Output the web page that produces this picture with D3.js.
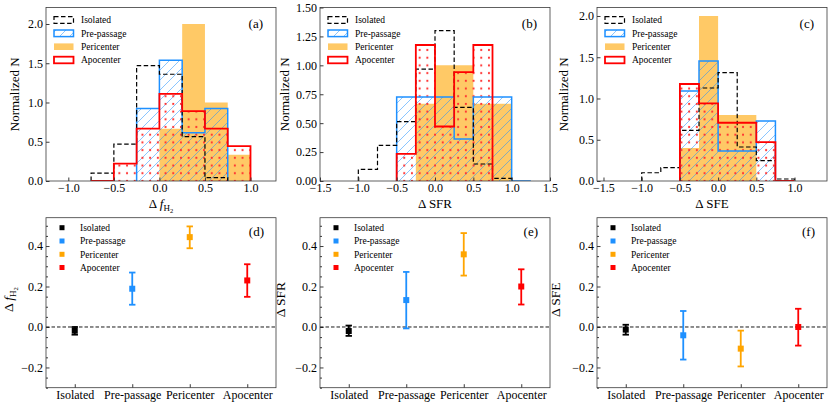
<!DOCTYPE html>
<html>
<head>
<meta charset="utf-8">
<script src="https://cdn.jsdelivr.net/npm/d3@7/dist/d3.min.js"></script>
<style>
body { margin: 0; background: #fff; }
svg, text { font-family: "Liberation Serif", "Times New Roman", "DejaVu Serif", serif; }
text { fill: #000; }
</style>
</head>
<body>
<svg id="fig" width="830" height="406" font-family="Liberation Serif, serif"></svg>
<script>
// ---------- top row: normalised histograms (bin width 0.25) ----------
var edgesH2  = [-0.75, -0.5, -0.25, 0, 0.25, 0.5, 0.75, 1.0];
var isoH2    = [0.10, 0.47, 1.47, 1.36, 0.565, 0.042, 0];
var preH2    = [0, 0, 0.923, 1.538, 0.615, 0.923, 0];
var periH2   = [0, 0, 0, 0.667, 2.0, 1.0, 0.333];
var apoH2    = [0, 0.222, 0.667, 1.111, 0.889, 0.667, 0.444];
var spanH2   = [[-0.75, 0.75], [-0.25, 0.75], [0, 1.0], [-0.75, 1.0]];   // bin range of each sample

var edgesSFR = [-1.0, -0.75, -0.5, -0.25, 0, 0.25, 0.5, 0.75, 1.0, 1.25];
var isoSFR   = [0.10, 0.308, 0.513, 0.967, 1.30, 0.636, 0.147, 0.023, 0];
var preSFR   = [0, 0, 0.727, 0.727, 0.727, 0.364, 0.727, 0.727, 0];
var periSFR  = [0, 0, 0, 0.667, 1.0, 1.0, 0.667, 0.667, 0];
var apoSFR   = [0, 0, 0.235, 1.176, 0.471, 0.941, 1.176, 0, 0];
var spanSFR  = [[-1.0, 1.0], [-0.5, 1.25], [-0.25, 1.0], [-0.5, 0.75]];

var edgesSFE = [-1.0, -0.75, -0.5, -0.25, 0, 0.25, 0.5, 0.75, 1.0];
var isoSFE   = [0.10, 0.162, 0.614, 1.127, 1.313, 0.412, 0.246, 0.024];
var preSFE   = [0, 0, 1.091, 1.455, 0.364, 0.364, 0.727, 0];
var periSFE  = [0, 0, 0.4, 2.0, 0.8, 0.8, 0, 0];
var apoSFE   = [0, 0, 1.176, 0.941, 0.706, 0.706, 0.471, 0];
var spanSFE  = [[-1.0, 1.0], [-0.5, 0.75], [-0.5, 0.5], [-0.5, 1.0]];

var xTicksH2  = [-1.0, -0.5, 0.0, 0.5, 1.0];
var xTicksSFR = [-1.5, -1.0, -0.5, 0.0, 0.5, 1.0, 1.5];
var xTicksSFE = [-1.5, -1.0, -0.5, 0.0, 0.5, 1.0];
var yTicksH2  = [0, 0.5, 1.0, 1.5, 2.0];
var yTicksSFR = [0, 0.25, 0.5, 0.75, 1.0, 1.25, 1.5];
var yTicksSFE = [0, 0.5, 1.0, 1.5, 2.0];

// ---------- bottom row: median offsets with errors ----------
var groups     = ["Isolated", "Pre-passage", "Pericenter", "Apocenter"];
var groupColor = ["#000000", "#1e90ff", "#ffa500", "#ff0000"];

var dH2    = [-0.018, 0.189, 0.444, 0.230];
var dH2Lo  = [-0.038, 0.110, 0.389, 0.149];
var dH2Hi  = [ 0.000, 0.269, 0.497, 0.310];

var dSFR   = [-0.020, 0.133, 0.359, 0.200];
var dSFRLo = [-0.044, -0.007, 0.254, 0.111];
var dSFRHi = [ 0.007, 0.272, 0.464, 0.285];

var dSFE   = [-0.013, -0.041, -0.107, 0.000];
var dSFELo = [-0.038, -0.161, -0.195, -0.092];
var dSFEHi = [ 0.011, 0.079, -0.018, 0.090];

var yTicksBot  = [-0.2, 0.0, 0.2, 0.4];

// ---------- layout ----------
var panelX = [46, 320, 597], panelW = 230;
var topY = 7.5, topB = 181;
var botY = 217.7, botB = 387.7;
var frameColor = "#3a3a3a";
var serif = "Liberation Serif, Times New Roman, DejaVu Serif, serif";

var svg = d3.select("#fig");
var defs = svg.append("defs");

// "/" hatch for pre-passage
var hatch = defs.append("pattern")
    .attr("id", "hatchBlue")
    .attr("patternUnits", "userSpaceOnUse")
    .attr("width", 10).attr("height", 10);
hatch.append("path")
    .attr("d", "M-1,1 l2,-2 M0,10 l10,-10 M9,11 l2,-2")
    .attr("stroke", "#1e90ff").attr("stroke-width", 0.7)
    .attr("stroke-opacity", 0.75);

// "." hatch for apocenter
var dots = defs.append("pattern")
    .attr("id", "dotsRed")
    .attr("patternUnits", "userSpaceOnUse")
    .attr("width", 7.7).attr("height", 7.7);
dots.append("circle")
    .attr("cx", 3.85).attr("cy", 3.85).attr("r", 1.1)
    .attr("fill", "#ff3030");

// step outline, as matplotlib draws histtype="step", limited to the sample's bin range
function stepPoints(edges, vals, span){
    var pts = [];
    for (var i = 0; i < vals.length; i++){
        if (edges[i] < span[0] - 1e-9 || edges[i+1] > span[1] + 1e-9) continue;
        if (!pts.length) pts.push([edges[i], 0]);
        pts.push([edges[i], vals[i]]);
        pts.push([edges[i+1], vals[i]]);
    }
    pts.push([pts[pts.length-1][0], 0]);
    return pts;
}

function styleAxis(g){
    g.select(".domain").remove();
    g.attr("font-family", serif)
     .attr("font-size", 12)
     .attr("color", frameColor);
    g.selectAll("text").style("fill", "#000").attr("font-family", serif);
}

function histPanel(k, edges, iso, pre, peri, apo, span, xDom, yDom, xTicks, yTicks, yFmt, letter, ylabX, xlabel){
    var x0 = panelX[k];
    var x = d3.scaleLinear().domain(xDom).range([x0, x0 + panelW]);
    var y = d3.scaleLinear().domain(yDom).range([topB, topY]);
    var line = d3.line().x(function(d){ return x(d[0]); }).y(function(d){ return y(d[1]); });

    defs.append("clipPath").attr("id", "clipTop" + k)
        .append("rect").attr("x", x0).attr("y", topY).attr("width", panelW).attr("height", topB - topY);

    var g = svg.append("g").attr("clip-path", "url(#clipTop" + k + ")");

    // fills first
    g.append("path").attr("d", line(stepPoints(edges, peri, span[2])) + "Z")
        .attr("fill", "#ffa500").attr("fill-opacity", 0.6).attr("stroke", "none");
    g.append("path").attr("d", line(stepPoints(edges, pre, span[1])) + "Z")
        .attr("fill", "url(#hatchBlue)").attr("stroke", "none");
    g.append("path").attr("d", line(stepPoints(edges, apo, span[3])) + "Z")
        .attr("fill", "url(#dotsRed)").attr("stroke", "none");

    // outlines
    g.append("path").attr("d", line(stepPoints(edges, pre, span[1])))
        .attr("fill", "none").attr("stroke", "#1e90ff").attr("stroke-width", 1.5);
    g.append("path").attr("d", line(stepPoints(edges, iso, span[0])))
        .attr("fill", "none").attr("stroke", "#000").attr("stroke-width", 1.2)
        .attr("stroke-dasharray", "4.5,2.5");
    g.append("path").attr("d", line(stepPoints(edges, apo, span[3])))
        .attr("fill", "none").attr("stroke", "#ff0000").attr("stroke-width", 1.8);

    // axes
    svg.append("g").attr("transform", "translate(0," + topB + ")")
        .call(d3.axisBottom(x).tickValues(xTicks).tickFormat(d3.format(".1f")).tickSize(-3.5).tickPadding(2.5))
        .call(styleAxis);
    svg.append("g").attr("transform", "translate(" + x0 + ",0)")
        .call(d3.axisLeft(y).tickValues(yTicks).tickFormat(d3.format(yFmt)).tickSize(-3.5).tickPadding(3))
        .call(styleAxis);

    svg.append("rect").attr("x", x0).attr("y", topY).attr("width", panelW).attr("height", topB - topY)
        .attr("fill", "none").attr("stroke", frameColor).attr("stroke-width", 0.8);

    // legend
    var lg = svg.append("g").attr("transform", "translate(" + x0 + ",0)");
    var rows = [20, 33.3, 46.7, 60];
    lg.append("rect").attr("x", 8).attr("y", rows[0] - 3.3).attr("width", 19.5).attr("height", 6.6)
        .attr("fill", "none").attr("stroke", "#000").attr("stroke-width", 1.2).attr("stroke-dasharray", "4.5,2.5");
    lg.append("rect").attr("x", 8).attr("y", rows[1] - 3.3).attr("width", 19.5).attr("height", 6.6)
        .attr("fill", "url(#hatchBlue)").attr("stroke", "#1e90ff").attr("stroke-width", 1.5);
    lg.append("rect").attr("x", 8).attr("y", rows[2] - 3.3).attr("width", 19.5).attr("height", 6.6)
        .attr("fill", "#ffa500").attr("fill-opacity", 0.6).attr("stroke", "none");
    lg.append("rect").attr("x", 8).attr("y", rows[3] - 3.3).attr("width", 19.5).attr("height", 6.6)
        .attr("fill", "#fff").attr("stroke", "#ff0000").attr("stroke-width", 1.8);
    lg.selectAll("text.leg").data(groups).enter().append("text")
        .attr("class", "leg")
        .attr("x", 35).attr("y", function(d, i){ return rows[i] + 3.2; })
        .attr("font-size", 9.5).text(function(d){ return d; });

    svg.append("text").attr("x", x0 + panelW - 13).attr("y", 28)
        .attr("text-anchor", "end").attr("font-size", 13).text(letter);

    svg.append("text").attr("transform", "translate(" + ylabX + "," + ((topY + topB) / 2) + ") rotate(-90)")
        .attr("text-anchor", "middle").attr("font-size", 13).text("Normalized N");

    xlabel(svg.append("text").attr("x", x0 + panelW / 2).attr("y", 208)
        .attr("text-anchor", "middle").attr("font-size", 13));
}

function errPanel(k, vals, lo, hi, letter, ylabX, ylabel){
    var x0 = panelX[k];
    var x = d3.scaleLinear().domain([-0.5, 3.5]).range([x0, x0 + panelW]);
    var y = d3.scaleLinear().domain([-0.3, 0.54]).range([botB, botY]);

    var yAx = d3.axisLeft(y).tickValues(yTicksBot).tickFormat(d3.format(".1f")).tickSize(-3.5).tickPadding(3);
    svg.append("g").attr("transform", "translate(" + x0 + ",0)").call(yAx).call(styleAxis);
    var minor = d3.range(-0.3, 0.5401, 0.05).filter(function(v){
        return Math.abs(v * 5 - Math.round(v * 5)) > 1e-6;
    });
    svg.append("g").attr("transform", "translate(" + x0 + ",0)")
        .call(d3.axisLeft(y).tickValues(minor).tickFormat("").tickSize(-2))
        .call(styleAxis);
    svg.append("g").attr("transform", "translate(0," + botB + ")")
        .call(d3.axisBottom(x).tickValues([0, 1, 2, 3]).tickFormat(function(d){ return groups[d]; })
            .tickSize(-3.5).tickPadding(3))
        .call(styleAxis);

    // zero line
    svg.append("line").attr("x1", x0).attr("x2", x0 + panelW).attr("y1", y(0)).attr("y2", y(0))
        .attr("stroke", "#000").attr("stroke-width", 0.9).attr("stroke-dasharray", "3.5,2");

    var g = svg.append("g");
    var pts = g.selectAll("g.pt").data(vals).enter().append("g").attr("class", "pt");
    pts.append("line")
        .attr("x1", function(d, i){ return x(i); }).attr("x2", function(d, i){ return x(i); })
        .attr("y1", function(d, i){ return y(lo[i]); }).attr("y2", function(d, i){ return y(hi[i]); })
        .attr("stroke", function(d, i){ return groupColor[i]; }).attr("stroke-width", 1.8);
    [lo, hi].forEach(function(arr){
        pts.append("line")
            .attr("x1", function(d, i){ return x(i) - 3.2; }).attr("x2", function(d, i){ return x(i) + 3.2; })
            .attr("y1", function(d, i){ return y(arr[i]); }).attr("y2", function(d, i){ return y(arr[i]); })
            .attr("stroke", function(d, i){ return groupColor[i]; }).attr("stroke-width", 1.8);
    });
    pts.append("rect")
        .attr("x", function(d, i){ return x(i) - 3; }).attr("y", function(d){ return y(d) - 3; })
        .attr("width", 6).attr("height", 6)
        .attr("fill", function(d, i){ return groupColor[i]; });

    svg.append("rect").attr("x", x0).attr("y", botY).attr("width", panelW).attr("height", botB - botY)
        .attr("fill", "none").attr("stroke", frameColor).attr("stroke-width", 0.8);

    // legend
    var rows = [227.7, 241, 254.3, 267.5];
    var lg = svg.append("g").attr("transform", "translate(" + x0 + ",0)");
    lg.selectAll("rect").data(groups).enter().append("rect")
        .attr("x", 13.5).attr("y", function(d, i){ return rows[i] - 2.5; })
        .attr("width", 5).attr("height", 5)
        .attr("fill", function(d, i){ return groupColor[i]; });
    lg.selectAll("text").data(groups).enter().append("text")
        .attr("x", 34).attr("y", function(d, i){ return rows[i] + 3.2; })
        .attr("font-size", 9.5).text(function(d){ return d; });

    svg.append("text").attr("x", x0 + panelW - 12).attr("y", 236)
        .attr("text-anchor", "end").attr("font-size", 13).text(letter);

    ylabel(svg.append("text").attr("transform", "translate(" + ylabX + "," + ((botY + botB) / 2 - 3) + ") rotate(-90)")
        .attr("text-anchor", "middle").attr("font-size", 13.5));
}

// label writers
function labH2(t){
    t.append("tspan").text("Δ ");
    t.append("tspan").attr("font-style", "italic").text("f");
    t.append("tspan").attr("font-size", 9).attr("dy", 3).text("H");
    t.append("tspan").attr("font-size", 6.5).attr("dy", 1.5).text("2");
}
function labText(s){ return function(t){ t.text(s); }; }

histPanel(0, edgesH2, isoH2, preH2, periH2, apoH2, spanH2, [-1.245, 1.28], [0, 2.21],
          xTicksH2, yTicksH2, ".1f", "(a)", 19, labH2);
histPanel(1, edgesSFR, isoSFR, preSFR, periSFR, apoSFR, spanSFR, [-1.5, 1.5], [0, 1.5],
          xTicksSFR, yTicksSFR, ".2f", "(b)", 289, labText("Δ SFR"));
histPanel(2, edgesSFE, isoSFE, preSFE, periSFE, apoSFE, spanSFE, [-1.585, 1.425], [0, 2.103],
          xTicksSFE, yTicksSFE, ".1f", "(c)", 568, labText("Δ SFE"));

errPanel(0, dH2, dH2Lo, dH2Hi, "(d)", 13, labH2);
errPanel(1, dSFR, dSFRLo, dSFRHi, "(e)", 285, labText("Δ SFR"));
errPanel(2, dSFE, dSFELo, dSFEHi, "(f)", 560, labText("Δ SFE"));
</script>
</body>
</html>
